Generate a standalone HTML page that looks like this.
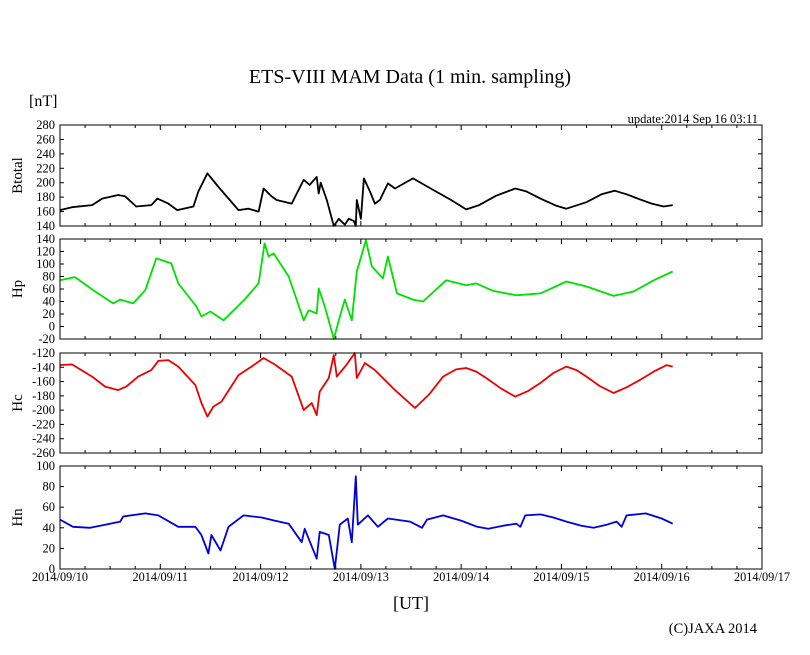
<!DOCTYPE html>
<html><head><meta charset="utf-8">
<style>
html,body{margin:0;padding:0;background:#fff;}
svg{display:block;font-family:"Liberation Serif",serif;}
</style></head>
<body>
<svg id="chart" width="810" height="655" viewBox="0 0 810 655" xmlns="http://www.w3.org/2000/svg">
<text x="410" y="83" font-size="20" text-anchor="middle">ETS-VIII MAM Data (1 min. sampling)</text>
<text x="29" y="106" font-size="16">[nT]</text>
<text x="758" y="123" font-size="12.5" text-anchor="end">update:2014 Sep 16 03:11</text>
<text x="411" y="609" font-size="18" text-anchor="middle">[UT]</text>
<text x="757" y="633" font-size="14.5" text-anchor="end">(C)JAXA 2014</text>
<g id="plots"></g>
</svg>
<script>
const xDays = [0,1,2,3,4,5,6,7];
const xTickLabels = ["2014/09/10","2014/09/11","2014/09/12","2014/09/13","2014/09/14","2014/09/15","2014/09/16","2014/09/17"];

const btTime = [0,0.12,0.32,0.42,0.58,0.65,0.76,0.91,0.97,1.08,1.17,1.33,1.38,1.47,1.58,1.78,1.88,1.98,2.03,2.11,2.16,2.31,2.43,2.49,2.56,2.58,2.6,2.66,2.73,2.78,2.84,2.88,2.93,2.95,2.96,3.0,3.03,3.09,3.14,3.19,3.27,3.34,3.52,3.72,3.9,4.05,4.18,4.35,4.54,4.65,4.79,4.95,5.05,5.25,5.4,5.53,5.65,5.78,5.9,6.02,6.11];
const btValue = [162,166,169,178,183,181,167,169,178,171,162,167,188,213,194,162,164,160,192,181,176,171,204,197,208,185,200,176,140,150,142,150,147,140,176,150,206,188,171,176,199,192,206,190,176,163,169,182,192,188,178,168,164,173,184,189,184,177,171,167,169];

const hpTime = [0,0.15,0.35,0.53,0.6,0.73,0.85,0.96,1.11,1.18,1.36,1.41,1.5,1.63,1.84,1.98,2.04,2.08,2.13,2.28,2.43,2.48,2.56,2.58,2.64,2.73,2.78,2.84,2.91,2.96,3.05,3.11,3.22,3.27,3.36,3.52,3.62,3.85,4.05,4.15,4.32,4.55,4.79,5.05,5.25,5.52,5.72,5.92,6.11];
const hpValue = [74,79,56,37,43,37,58,109,101,69,32,16,24,10,43,69,133,112,117,80,10,26,21,61,32,-20,10,43,10,88,138,96,77,112,53,43,40,74,66,69,57,50,53,72,64,49,56,74,88];

const hcTime = [0,0.12,0.32,0.45,0.58,0.66,0.78,0.91,0.98,1.08,1.18,1.35,1.41,1.47,1.53,1.61,1.78,1.91,2.03,2.14,2.31,2.43,2.51,2.56,2.59,2.68,2.73,2.76,2.86,2.94,2.96,3.04,3.14,3.34,3.54,3.68,3.82,3.95,4.05,4.15,4.25,4.4,4.54,4.67,4.79,4.92,5.05,5.15,5.25,5.38,5.52,5.65,5.78,5.92,6.05,6.11];
const hcValue = [-137,-136,-153,-167,-172,-167,-153,-144,-131,-130,-139,-165,-190,-209,-195,-188,-151,-139,-127,-136,-153,-200,-190,-207,-174,-155,-123,-153,-136,-120,-155,-134,-144,-172,-197,-178,-153,-143,-141,-146,-155,-170,-181,-173,-162,-148,-139,-144,-153,-166,-176,-168,-158,-146,-137,-139];

const hnTime = [0,0.13,0.3,0.45,0.6,0.63,0.85,0.98,1.18,1.35,1.41,1.48,1.51,1.6,1.68,1.83,2.01,2.14,2.28,2.41,2.44,2.56,2.59,2.68,2.74,2.79,2.87,2.91,2.95,2.97,3.07,3.17,3.27,3.49,3.61,3.66,3.82,4.0,4.16,4.27,4.42,4.55,4.59,4.64,4.79,4.92,5.05,5.2,5.32,5.45,5.55,5.6,5.65,5.84,6.0,6.11];
const hnValue = [48,41,40,43,46,51,54,52,41,41,33,15,33,18,41,52,50,47,44,26,39,10,36,33,0,43,49,26,90,43,52,41,49,46,40,48,52,47,41,39,42,44,41,52,53,50,46,42,40,43,46,41,52,54,49,44];

const panelNames = ["btotal","hp","hc","hn"];
const panelLabels = ["Btotal","Hp","Hc","Hn"];
const panelMin = [140,-20,-260,0];
const panelMax = [280,140,-120,100];
const panelStep = [20,20,20,20];
const panelColors = ["#000","#00e000","#ee0000","#0000dd"];
const panelTimes = [btTime,hpTime,hcTime,hnTime];
const panelValues = [btValue,hpValue,hcValue,hnValue];
const panelTop = [125,239,353,466];
const panelBottom = [226,339,453,569];

const NS = "http://www.w3.org/2000/svg";
const L = 60, R = 762;
const xScale = d => L + (d - xDays[0]) / (xDays[xDays.length-1] - xDays[0]) * (R - L);
const g = document.getElementById('plots');
function mk(tag, attrs){const e=document.createElementNS(NS,tag);for(const k in attrs)e.setAttribute(k,attrs[k]);return e;}

for (let p = 0; p < 4; p++) {
  const top = panelTop[p], bot = panelBottom[p];
  const yScale = v => bot - (v - panelMin[p]) / (panelMax[p] - panelMin[p]) * (bot - top);
  const pg = mk('g', {});
  
  
  g.appendChild(pg);

  const pts = panelTimes[p].map((t,i)=> xScale(t).toFixed(1)+','+yScale(Math.max(panelMin[p],Math.min(panelMax[p],panelValues[p][i]))).toFixed(1)).join(' ');
  const line = mk('polyline', {points: pts, fill:'none', stroke: panelColors[p], 'stroke-width': 1.8, 'stroke-linejoin':'round'});
  
  
  pg.appendChild(line);

  const frame = mk('rect', {x:L, y:top, width:R-L, height:bot-top, fill:'none', stroke:'#000', 'stroke-width':1});
  
  
  pg.appendChild(frame);

  for (let v = panelMin[p]; v <= panelMax[p] + 0.001; v += panelStep[p]) {
    const y = yScale(v);
    pg.appendChild(mk('line', {x1:L, x2:L+4, y1:y, y2:y, stroke:'#000', 'stroke-width':1}));
    pg.appendChild(mk('line', {x1:R-4, x2:R, y1:y, y2:y, stroke:'#000', 'stroke-width':1}));
    const tl = mk('text', {x:55, y:y+4, 'font-size':12.5, 'text-anchor':'end'});
    tl.textContent = String(v);
    
    
    pg.appendChild(tl);
  }
  for (let q = 0; q <= 28; q++) {
    const x = xScale(q/4);
    const len = (q % 4 === 0) ? 5 : 3;
    pg.appendChild(mk('line', {x1:x, x2:x, y1:top, y2:top+len, stroke:'#000', 'stroke-width':1}));
    pg.appendChild(mk('line', {x1:x, x2:x, y1:bot-len, y2:bot, stroke:'#000', 'stroke-width':1}));
  }
  const cy = (top + bot) / 2;
  const yt = mk('text', {x:0, y:0, 'font-size':15, 'text-anchor':'middle', transform:`translate(22,${cy}) rotate(-90)`});
  yt.textContent = panelLabels[p];
  
  
  pg.appendChild(yt);
}

for (let i = 0; i < xDays.length; i++) {
  const t = mk('text', {x: xScale(xDays[i]), y: 581, 'font-size':12.3, 'text-anchor':'middle'});
  t.textContent = xTickLabels[i];
  
  
  g.appendChild(t);
}
</script>
</body></html>
